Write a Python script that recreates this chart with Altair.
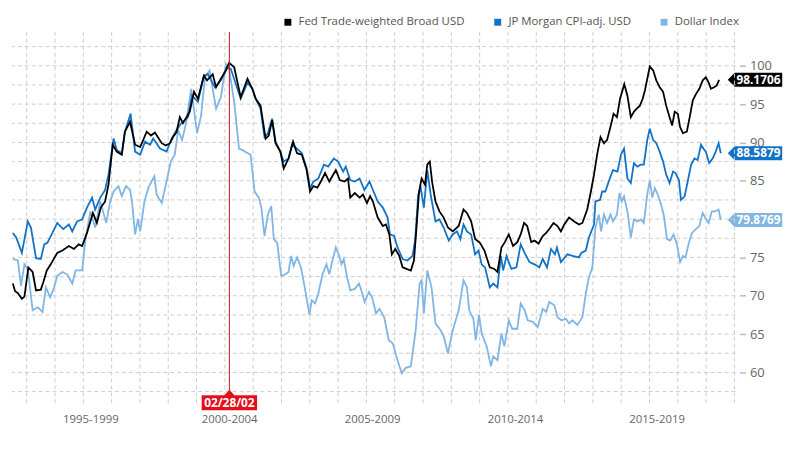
import altair as alt
import pandas as pd

SERIES = ["Fed Trade-weighted Broad USD", "JP Morgan CPI-adj. USD", "Dollar Index"]
COLORS = ["#000000", "#1272c6", "#80b5e4"]

fed_t = [1994.51,1994.59,1994.69,1994.83,1994.92,1995.06,1995.21,1995.33,1995.50,1995.59,
         1995.71,1995.85,1996.08,1996.26,1996.49,1996.67,1996.84,1996.96,1997.13,1997.34,
         1997.48,1997.62,1997.77,1997.89,1998.04,1998.18,1998.36,1998.47,1998.65,1998.83,
         1999.01,1999.24,1999.39,1999.53,1999.77,1999.91,2000.06,2000.17,2000.29,2000.41,
         2000.52,2000.76,2000.91,2001.05,2001.26,2001.37,2001.57,2001.69,2001.86,2002.04,
         2002.15,2002.33,2002.56,2002.80,2002.97,2003.09,2003.26,2003.44,2003.55,2003.67,
         2003.79,2003.96,2004.08,2004.25,2004.41,2004.55,2004.72,2004.89,2005.01,2005.13,
         2005.27,2005.42,2005.54,2005.69,2005.92,2006.06,2006.23,2006.35,2006.43,2006.59,
         2006.76,2006.88,2007.02,2007.13,2007.23,2007.40,2007.58,2007.69,2007.81,2007.90,
         2008.02,2008.16,2008.28,2008.42,2008.57,2008.68,2008.76,2008.86,2008.95,2009.07,
         2009.15,2009.24,2009.32,2009.44,2009.58,2009.73,2009.88,2010.05,2010.26,2010.43,
         2010.55,2010.70,2010.84,2011.01,2011.17,2011.36,2011.52,2011.63,2011.77,2011.89,
         2012.03,2012.18,2012.33,2012.45,2012.57,2012.68,2012.82,2012.94,2013.08,2013.23,
         2013.35,2013.46,2013.61,2013.75,2013.87,2013.99,2014.16,2014.34,2014.51,2014.63,
         2014.80,2014.92,2015.04,2015.15,2015.27,2015.39,2015.50,2015.62,2015.73,2015.85,
         2015.96,2016.11,2016.22,2016.34,2016.45,2016.55,2016.66,2016.76,2016.84,2017.01,
         2017.13,2017.24,2017.36,2017.48,2017.59,2017.71,2017.80,2017.89,2018.00,2018.08,
         2018.18,2018.32,2018.43,2018.53,2018.64,2018.76,2018.88,2018.99,2019.09,2019.17,
         2019.28,2019.37,2019.46]
fed_v = [71.6,70.6,70.35,69.6,69.9,73.7,73.1,70.7,70.8,71.8,
         73.3,74.1,75.6,75.9,76.5,76.1,76.7,76.5,78.2,80.8,
         79.5,81.5,82.3,84.5,89.7,88.8,88.4,91.4,92.7,89.7,
         89.4,91.4,90.9,91.3,89.9,89.6,89.9,90.7,91.3,93.3,
         92.5,94.0,96.6,95.7,98.7,98.1,98.9,97.2,98.3,99.4,
         100.4,99.8,95.9,98.3,97.0,95.7,94.8,90.5,90.9,92.9,
         89.9,88.8,86.6,87.9,90.1,88.6,88.4,86.4,83.6,84.3,
         84.1,85.1,86.0,84.9,86.4,85.1,84.9,85.3,82.8,83.4,
         82.8,83.2,82.1,83.0,82.3,80.2,79.1,79.3,78.0,75.4,
         76.1,75.2,73.7,73.5,73.3,74.6,78.4,83.6,85.3,84.5,
         87.1,87.5,84.9,82.3,81.0,80.2,78.9,78.4,79.1,81.25,
         80.8,79.7,77.4,76.9,75.9,73.7,73.5,73.1,76.3,77.0,
         78.0,76.5,77.0,78.0,79.5,79.1,77.0,77.2,76.8,77.8,
         78.2,78.7,79.5,79.1,78.4,79.3,80.2,79.7,79.3,79.5,
         81.25,83.4,85.8,88.4,90.7,89.9,90.3,92.0,93.75,93.3,
         95.7,97.6,96.1,93.3,94.0,94.4,94.8,95.7,96.8,99.9,
         99.4,98.1,97.2,96.6,94.8,93.3,92.2,94.0,93.75,92.0,
         91.2,91.4,93.5,95.5,96.3,97.0,98.1,98.5,97.8,97.0,
         97.2,97.4,98.1706]

jpm_t = [1994.51,1994.63,1994.83,1995.04,1995.15,1995.33,1995.50,1995.62,1995.73,1995.91,
         1996.08,1996.29,1996.49,1996.61,1996.78,1996.96,1997.13,1997.31,1997.42,1997.60,
         1997.77,1997.89,1998.07,1998.18,1998.36,1998.47,1998.67,1998.83,1999.01,1999.18,
         1999.36,1999.47,1999.71,1999.94,2000.12,2000.29,2000.46,2000.70,2000.84,2001.05,
         2001.26,2001.40,2001.65,2001.86,2002.07,2002.21,2002.56,2002.80,2002.97,2003.09,
         2003.26,2003.40,2003.52,2003.67,2003.79,2003.96,2004.08,2004.25,2004.37,2004.55,
         2004.72,2004.89,2005.01,2005.13,2005.30,2005.50,2005.65,2005.85,2006.00,2006.18,
         2006.27,2006.43,2006.59,2006.76,2006.93,2007.11,2007.23,2007.40,2007.58,2007.75,
         2007.83,2007.98,2008.10,2008.28,2008.45,2008.63,2008.72,2008.83,2008.92,2009.03,
         2009.15,2009.27,2009.44,2009.58,2009.73,2009.91,2010.05,2010.20,2010.32,2010.43,
         2010.55,2010.70,2010.84,2010.96,2011.07,2011.19,2011.36,2011.48,2011.63,2011.75,
         2011.83,2011.95,2012.12,2012.30,2012.45,2012.59,2012.76,2012.94,2013.11,2013.23,
         2013.38,2013.52,2013.66,2013.73,2013.87,2014.10,2014.28,2014.51,2014.59,2014.75,
         2014.86,2015.04,2015.09,2015.25,2015.33,2015.44,2015.56,2015.71,2015.87,2015.99,
         2016.10,2016.22,2016.34,2016.45,2016.57,2016.69,2016.80,2016.92,2017.01,2017.13,
         2017.24,2017.36,2017.48,2017.59,2017.71,2017.83,2017.92,2018.04,2018.11,2018.24,
         2018.35,2018.47,2018.59,2018.70,2018.82,2018.90,2018.99,2019.11,2019.23,2019.34,
         2019.44,2019.52]
jpm_v = [78.2,77.6,75.6,79.7,78.9,74.9,74.8,76.7,76.9,78.2,
         79.5,78.7,79.3,78.4,79.7,79.96,81.5,82.8,81.25,82.8,
         83.8,85.8,90.5,89.0,88.6,91.4,93.75,88.8,88.4,90.1,
         89.7,90.5,89.2,88.8,90.5,91.6,92.5,93.3,96.1,95.3,
         98.7,98.9,97.2,98.1,99.8,99.6,95.7,97.8,97.0,95.7,
         94.4,90.7,91.2,93.1,90.1,88.8,87.5,87.9,89.7,89.2,
         88.6,86.6,84.05,84.9,85.3,87.1,86.85,87.9,87.5,86.2,
         86.85,85.1,84.9,85.3,83.8,84.9,83.8,82.3,81.5,80.2,
         78.0,77.8,76.3,74.8,74.6,75.2,77.2,83.2,84.05,81.5,
         86.4,83.2,79.7,79.96,78.9,77.2,78.0,78.4,77.4,79.3,
         78.4,78.0,75.4,75.9,74.1,73.7,71.1,71.6,71.1,75.2,
         73.3,75.2,73.5,73.7,76.7,75.6,74.4,74.1,73.7,74.8,
         73.7,76.1,75.4,76.3,74.4,75.4,75.2,75.0,75.6,75.9,
         77.6,79.3,82.3,82.5,83.6,83.6,84.9,86.4,86.2,88.4,
         89.2,85.3,84.7,87.3,86.85,87.1,87.1,90.3,91.8,90.3,
         89.9,88.8,87.5,85.8,84.7,86.2,86.0,85.1,82.5,82.97,
         84.9,87.1,87.9,87.7,89.7,89.2,88.8,87.3,87.9,88.8,
         89.9,88.5879]

dxy_t = [1994.51,1994.69,1994.80,1994.92,1995.04,1995.21,1995.39,1995.56,1995.68,1995.83,
         1995.97,1996.08,1996.26,1996.43,1996.61,1996.73,1996.96,1997.07,1997.25,1997.42,
         1997.60,1997.81,1997.95,1998.07,1998.24,1998.36,1998.51,1998.65,1998.72,1998.83,
         1998.93,1999.01,1999.16,1999.30,1999.51,1999.59,1999.77,1999.94,2000.09,2000.23,
         2000.35,2000.49,2000.64,2000.81,2001.02,2001.16,2001.30,2001.46,2001.69,2001.86,
         2002.04,2002.15,2002.33,2002.50,2002.62,2002.91,2003.05,2003.20,2003.29,2003.40,
         2003.52,2003.64,2003.73,2003.85,2003.99,2004.14,2004.25,2004.34,2004.43,2004.55,
         2004.69,2004.84,2004.99,2005.07,2005.19,2005.30,2005.45,2005.59,2005.69,2005.80,
         2005.92,2006.04,2006.12,2006.20,2006.32,2006.43,2006.59,2006.74,2006.82,2006.94,
         2007.09,2007.20,2007.34,2007.46,2007.63,2007.79,2007.93,2008.10,2008.25,2008.39,
         2008.57,2008.74,2008.88,2008.95,2009.03,2009.15,2009.30,2009.44,2009.62,2009.73,
         2009.88,2010.05,2010.26,2010.43,2010.55,2010.63,2010.78,2010.86,2010.98,2011.07,
         2011.25,2011.40,2011.48,2011.63,2011.77,2011.87,2012.03,2012.15,2012.33,2012.45,
         2012.59,2012.70,2012.88,2013.05,2013.23,2013.35,2013.46,2013.64,2013.75,2013.89,
         2014.05,2014.16,2014.28,2014.45,2014.63,2014.75,2014.86,2014.98,2015.09,2015.21,
         2015.29,2015.39,2015.50,2015.62,2015.71,2015.85,2015.94,2016.02,2016.10,2016.22,
         2016.34,2016.45,2016.57,2016.69,2016.80,2016.92,2017.01,2017.10,2017.19,2017.27,
         2017.38,2017.50,2017.62,2017.73,2017.85,2017.97,2018.08,2018.18,2018.27,2018.39,
         2018.50,2018.64,2018.76,2018.88,2018.97,2019.09,2019.20,2019.32,2019.44,2019.52]
dxy_v = [74.8,74.6,71.3,74.1,73.5,68.1,68.5,67.9,71.1,69.8,
         71.1,72.6,73.1,72.8,71.6,73.3,73.3,77.2,81.0,78.9,
         82.3,79.5,82.3,83.6,84.3,83.0,84.3,83.8,82.3,78.0,
         79.96,78.4,82.3,84.1,85.6,83.2,82.1,84.9,87.5,88.4,
         91.6,90.3,92.7,97.0,91.2,93.5,98.5,99.4,94.4,95.9,
         100.2,99.6,95.3,89.2,89.0,88.4,83.6,82.8,81.5,77.8,
         80.6,81.7,77.4,76.9,72.6,72.8,73.1,75.2,73.9,75.0,
         73.7,70.7,67.5,69.4,69.0,70.3,72.8,74.1,72.8,74.6,
         76.3,75.2,74.1,74.8,72.4,70.7,70.9,71.6,70.7,69.2,
         70.5,69.8,67.7,68.3,67.2,64.2,63.8,61.6,59.9,60.6,
         60.8,65.5,71.6,72.0,67.7,73.3,71.1,66.4,65.5,64.7,
         62.5,65.5,68.1,72.0,71.1,68.1,67.0,64.2,67.5,65.1,
         63.4,60.8,62.1,61.6,65.1,63.4,66.8,65.7,65.7,69.0,
         68.1,66.8,66.6,65.9,68.3,67.9,69.2,68.75,67.2,66.8,
         67.0,66.4,66.8,66.2,67.2,70.3,72.4,73.7,78.9,80.6,
         78.4,80.6,79.5,80.6,79.7,80.6,83.4,82.3,82.97,81.0,
         77.6,79.96,79.7,79.96,79.5,83.2,85.0,82.8,84.05,83.4,
         82.3,80.6,77.4,77.2,78.0,76.7,74.4,75.2,75.0,76.9,
         78.2,78.7,79.1,80.8,80.2,79.5,81.0,81.0,81.25,79.8769]

grid_years = [1995, 1996, 1997, 1998, 1999, 2000, 2001, 2002, 2003, 2004, 2005, 2006, 2007,
              2008, 2009, 2010, 2011, 2012, 2013, 2014, 2015, 2016, 2017, 2018, 2019, 2020]
y_grid = [57.5, 60, 62.5, 65, 67.5, 70, 72.5, 75, 77.5, 80, 82.5, 85, 87.5, 90, 92.5, 95,
          97.5, 100, 102.5]
y_ticks = [60, 65, 70, 75, 80, 85, 90, 95, 100]
period_pos = [1997.25, 2002.15, 2007.2, 2012.25, 2017.25]
period_labels = ["1995-1999", "2000-2004", "2005-2009", "2010-2014", "2015-2019"]
event_t = [2002.16]
event_label = ["02/28/02"]

W, H = 731, 378
X_DOMAIN = [1994.48, 2020.04]
Y_DOMAIN = [55.6, 104.4]
FONT = "Open Sans"
GRID = "#cccccc"

rows = []
for name, ts, vs in zip(SERIES, [fed_t, jpm_t, dxy_t], [fed_v, jpm_v, dxy_v]):
    assert len(ts) == len(vs), name
    rows += [{"series": name, "t": t, "v": v} for t, v in zip(ts, vs)]
df = pd.DataFrame(rows)

end_t = max(fed_t[-1], jpm_t[-1], dxy_t[-1])
ends = pd.DataFrame({"series": SERIES, "t": [end_t] * 3,
                     "v": [fed_v[-1], jpm_v[-1], dxy_v[-1]]})
ends["label"] = ends["v"].map(lambda v: f"{v:.4f}")
event_df = pd.DataFrame({"t": event_t, "label": event_label})

xscale = alt.Scale(domain=X_DOMAIN, nice=False, zero=False)
yscale = alt.Scale(domain=Y_DOMAIN, nice=False, zero=False)
cscale = alt.Scale(domain=SERIES, range=COLORS)

label_expr = "".join(f"abs(datum.value - {p}) < 0.01 ? '{l}' : "
                     for p, l in zip(period_pos, period_labels)) + "''"

x_axis = alt.Axis(values=period_pos, labelExpr=label_expr, grid=False, ticks=False, domain=False,
                  title=None, labelFont=FONT, labelFontSize=11.5, labelColor="#666666",
                  labelPadding=7)
y_axis = alt.Axis(orient="right", values=y_ticks, grid=False, domain=False, ticks=True, tickSize=6,
                  tickColor="#bbbbbb", tickWidth=1.5, offset=4, labelPadding=4, labelFont=FONT,
                  labelFontSize=13, labelColor="#666666", title=None)
legend = alt.Legend(orient="none", legendX=273, legendY=-16, direction="horizontal", title=None,
                    symbolType="square", symbolSize=49, symbolStrokeWidth=0, labelFont=FONT,
                    labelFontSize=11.5, labelColor="#555555", labelLimit=400, columnPadding=27,
                    labelOffset=5, padding=0)

X = alt.X("t:Q", scale=xscale, axis=x_axis)
Y = alt.Y("v:Q", scale=yscale, axis=y_axis)
Y_BOTTOM = alt.YDatum(Y_DOMAIN[0], scale=yscale, axis=y_axis)
C = alt.Color("series:N", scale=cscale, legend=legend)

END_SHAPE = "M 0.7 0 L 1.4 -0.7 L 6.2 -0.7 L 6.2 0.7 L 1.4 0.7 Z"
EVENT_SHAPE = "M -2.8 -1.1 L -0.5 -1.1 L 0 -1.65 L 0.5 -1.1 L 2.8 -1.1 L 2.8 0.4 L -2.8 0.4 Z"

end_box = alt.Chart(ends).mark_point(shape=END_SHAPE, size=400, filled=True, opacity=1,
                                      strokeWidth=0).encode(x=X, y=Y, color=C)
end_text = alt.Chart(ends).mark_text(color="white", font=FONT, fontSize=12, fontWeight="bold",
                                      dx=38, align="center", baseline="middle").encode(
    x=X, y=Y, text="label:N")

vgrid = alt.Chart(pd.DataFrame({"t": grid_years})).mark_rule(
    color=GRID, strokeDash=[4, 3], strokeWidth=1).encode(x=X)
hgrid = alt.Chart(pd.DataFrame({"v": y_grid})).mark_rule(
    color=GRID, strokeDash=[4, 3], strokeWidth=1).encode(y=Y)


def line(name):
    return alt.Chart(df).transform_filter(alt.datum.series == name).mark_line(
        strokeWidth=1.8).encode(x=X, y=Y, color=C)


ev_rule = alt.Chart(event_df).mark_rule(color="#d0101a", strokeWidth=1).encode(x=X)
ev_box = alt.Chart(event_df).mark_point(shape=EVENT_SHAPE, size=400, filled=True, fill="#e3101b",
                                         opacity=1, strokeWidth=0).encode(x=X, y=Y_BOTTOM)
ev_text = alt.Chart(event_df).mark_text(color="white", font=FONT, fontSize=12, fontWeight="bold",
                                         dy=-3.5, baseline="middle", align="center").encode(
    x=X, y=Y_BOTTOM, text="label:N")

chart = alt.layer(
    end_box, vgrid, hgrid, line(SERIES[2]), line(SERIES[1]), line(SERIES[0]),
    ev_rule, ev_box, ev_text, end_text,
).properties(
    width=W, height=H,
    autosize=alt.AutoSizeParams(type="none"),
    padding={"left": 4, "top": 22, "right": 55, "bottom": 43},
).configure_view(stroke=None)

chart.save("out.html", embed_options={"renderer": "svg", "actions": False})
